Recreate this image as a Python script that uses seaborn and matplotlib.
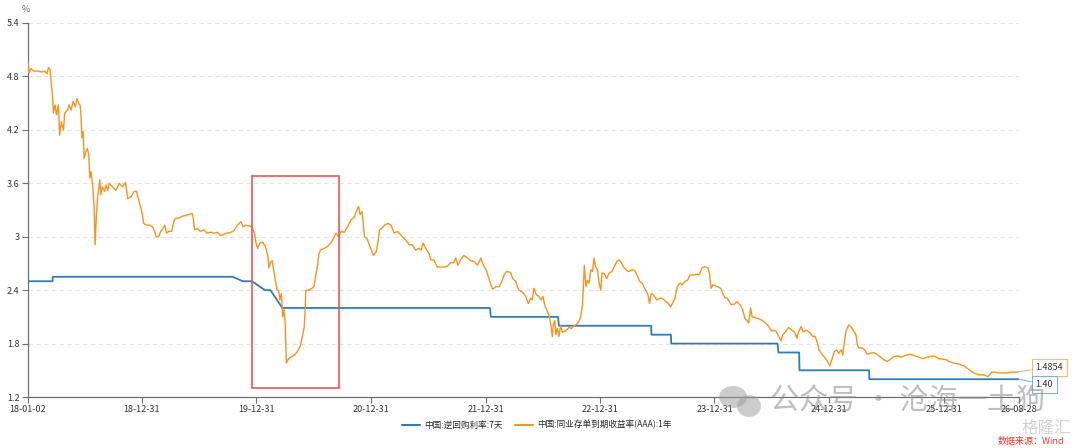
import matplotlib
matplotlib.use("Agg")
import matplotlib.pyplot as plt
import matplotlib.dates as mdates
from matplotlib.patches import Rectangle, Ellipse
from matplotlib.lines import Line2D
from matplotlib.ticker import FuncFormatter
import pandas as pd
import seaborn as sns


repo_label = "中国:逆回购利率:7天"
ncd_label = "中国:同业存单到期收益率(AAA):1年"

# 7-day reverse repo rate (%)
repo_dates = ["2018-01-02", "2018-03-21", "2018-03-22", "2019-10-17", "2019-11-18", "2019-12-17",
              "2020-01-28", "2020-02-14", "2020-03-23", "2022-01-14", "2022-01-17", "2022-08-19",
              "2022-08-22", "2023-06-12", "2023-06-13", "2023-08-14", "2023-08-15", "2024-07-19",
              "2024-07-22", "2024-09-26", "2024-09-27", "2025-05-07", "2025-05-08", "2026-08-28"]
repo_rate = [2.50, 2.50, 2.55, 2.55, 2.50, 2.50,
             2.40, 2.40, 2.20, 2.20, 2.10, 2.10,
             2.00, 2.00, 1.90, 1.90, 1.80, 1.80,
             1.70, 1.70, 1.50, 1.50, 1.40, 1.40]

# 1Y AAA NCD yield (%)
ncd_dates = [
    # 2018
    "2018-01-02", "2018-01-05", "2018-01-08", "2018-01-11", "2018-01-20", "2018-02-02",
    "2018-02-15", "2018-02-24", "2018-03-04", "2018-03-08", "2018-03-13", "2018-03-21",
    "2018-03-24", "2018-03-29", "2018-04-03", "2018-04-09", "2018-04-13", "2018-04-18",
    "2018-04-25", "2018-04-29", "2018-05-08", "2018-05-13", "2018-05-19", "2018-05-26",
    "2018-06-02", "2018-06-07", "2018-06-12", "2018-06-17", "2018-06-20", "2018-06-23",
    "2018-06-27", "2018-06-30", "2018-07-05", "2018-07-10", "2018-07-15", "2018-07-18",
    "2018-07-22", "2018-07-28", "2018-08-01", "2018-08-04", "2018-08-08", "2018-08-13",
    "2018-08-19", "2018-08-22", "2018-08-27", "2018-09-03", "2018-09-08", "2018-09-13",
    "2018-09-18", "2018-09-29", "2018-10-09", "2018-10-20", "2018-10-30", "2018-11-09",
    "2018-11-16", "2018-11-27", "2018-12-07", "2018-12-14", "2018-12-23", "2018-12-31",
    # 2019
    "2019-01-06", "2019-01-14", "2019-01-24", "2019-02-03", "2019-02-10", "2019-02-15",
    "2019-02-23", "2019-03-01", "2019-03-08", "2019-03-14", "2019-03-20", "2019-03-27",
    "2019-04-05", "2019-04-12", "2019-04-18", "2019-04-28", "2019-05-09", "2019-05-19",
    "2019-05-30", "2019-06-10", "2019-06-13", "2019-06-17", "2019-06-26", "2019-07-06",
    "2019-07-16", "2019-07-27", "2019-08-08", "2019-08-18", "2019-08-29", "2019-09-09",
    "2019-09-19", "2019-09-30", "2019-10-11", "2019-10-21", "2019-11-01", "2019-11-12",
    "2019-11-19", "2019-11-28", "2019-12-09", "2019-12-17", "2019-12-25", "2019-12-30",
    # 2020
    "2020-01-04", "2020-01-12", "2020-01-20", "2020-01-29", "2020-02-06", "2020-02-09",
    "2020-02-15", "2020-02-20", "2020-02-24", "2020-03-01", "2020-03-06", "2020-03-11",
    "2020-03-15", "2020-03-20", "2020-03-24", "2020-03-28", "2020-04-01", "2020-04-05",
    "2020-04-10", "2020-04-19", "2020-04-30", "2020-05-10", "2020-05-19", "2020-05-26",
    "2020-06-01", "2020-06-04", "2020-06-06", "2020-06-15", "2020-06-25", "2020-07-02",
    "2020-07-07", "2020-07-12", "2020-07-18", "2020-07-23", "2020-08-04", "2020-08-14",
    "2020-08-25", "2020-09-02", "2020-09-10", "2020-09-18", "2020-09-26", "2020-10-06",
    "2020-10-17", "2020-10-28", "2020-11-08", "2020-11-13", "2020-11-21", "2020-11-26",
    "2020-12-02", "2020-12-05", "2020-12-10", "2020-12-18", "2020-12-25",
    # 2021
    "2021-01-08", "2021-01-16", "2021-01-21", "2021-01-27", "2021-02-02", "2021-02-12",
    "2021-02-23", "2021-03-04", "2021-03-15", "2021-03-25", "2021-04-05", "2021-04-21",
    "2021-05-01", "2021-05-11", "2021-05-22", "2021-06-02", "2021-06-09", "2021-06-15",
    "2021-06-23", "2021-07-04", "2021-07-09", "2021-07-19", "2021-07-30", "2021-08-10",
    "2021-08-20", "2021-08-31", "2021-09-11", "2021-09-21", "2021-09-27", "2021-10-04",
    "2021-10-12", "2021-10-23", "2021-11-04", "2021-11-14", "2021-11-25", "2021-12-05",
    "2021-12-16", "2021-12-23",
    # 2022
    "2022-01-04", "2022-01-09", "2022-01-17", "2022-01-23", "2022-02-02", "2022-02-13",
    "2022-02-21", "2022-02-28", "2022-03-09", "2022-03-20", "2022-03-28", "2022-04-06",
    "2022-04-16", "2022-04-27", "2022-05-08", "2022-05-16", "2022-05-24", "2022-05-29",
    "2022-06-03", "2022-06-11", "2022-06-19", "2022-06-26", "2022-07-02", "2022-07-08",
    "2022-07-16", "2022-07-23", "2022-07-28", "2022-08-01", "2022-08-04", "2022-08-09",
    "2022-08-12", "2022-08-17", "2022-08-22", "2022-08-27", "2022-09-02", "2022-09-12",
    "2022-09-23", "2022-10-01", "2022-10-09", "2022-10-16", "2022-10-25", "2022-10-30",
    "2022-11-05", "2022-11-08", "2022-11-11", "2022-11-16", "2022-11-21", "2022-11-26",
    "2022-12-02", "2022-12-07", "2022-12-12", "2022-12-17", "2022-12-23", "2022-12-28",
    # 2023
    "2023-01-03", "2023-01-06", "2023-01-13", "2023-01-21", "2023-01-29", "2023-02-07",
    "2023-02-14", "2023-02-22", "2023-03-02", "2023-03-09", "2023-03-16", "2023-03-24",
    "2023-04-02", "2023-04-12", "2023-04-21", "2023-04-28", "2023-05-06", "2023-05-14",
    "2023-05-25", "2023-06-02", "2023-06-07", "2023-06-12", "2023-06-19", "2023-06-30",
    "2023-07-11", "2023-07-21", "2023-07-28", "2023-08-06", "2023-08-13", "2023-08-22",
    "2023-08-27", "2023-09-03", "2023-09-12", "2023-09-19", "2023-09-28", "2023-10-06",
    "2023-10-14", "2023-10-25", "2023-11-05", "2023-11-12", "2023-11-21", "2023-11-29",
    "2023-12-04", "2023-12-10", "2023-12-15", "2023-12-20", "2023-12-26",
    # 2024
    "2024-01-09", "2024-01-20", "2024-01-27", "2024-02-03", "2024-02-10", "2024-02-21",
    "2024-03-02", "2024-03-12", "2024-03-23", "2024-03-30", "2024-04-06", "2024-04-13",
    "2024-04-18", "2024-04-24", "2024-04-29", "2024-05-10", "2024-05-20", "2024-05-31",
    "2024-06-11", "2024-06-21", "2024-06-30", "2024-07-07", "2024-07-14", "2024-07-23",
    "2024-07-30", "2024-08-05", "2024-08-13", "2024-08-23", "2024-09-03", "2024-09-11",
    "2024-09-19", "2024-09-24", "2024-10-02", "2024-10-09", "2024-10-20", "2024-10-31",
    "2024-11-08", "2024-11-16", "2024-11-24", "2024-11-28", "2024-12-06", "2024-12-15",
    "2024-12-22",
    # 2025
    "2025-01-02", "2025-01-09", "2025-01-16", "2025-01-24", "2025-01-30", "2025-02-07",
    "2025-02-12", "2025-02-17", "2025-02-23", "2025-03-03", "2025-03-10", "2025-03-17",
    "2025-03-26", "2025-03-31", "2025-04-04", "2025-04-15", "2025-04-23", "2025-04-30",
    "2025-05-11", "2025-05-21", "2025-06-01", "2025-06-12", "2025-06-22", "2025-07-03",
    "2025-07-13", "2025-07-23", "2025-08-03", "2025-08-19", "2025-09-03", "2025-09-14",
    "2025-09-24", "2025-10-10", "2025-10-26", "2025-11-10", "2025-12-01", "2025-12-16",
    # 2026
    "2026-01-07", "2026-01-17", "2026-02-02", "2026-02-17", "2026-03-05", "2026-03-21",
    "2026-04-05", "2026-04-21", "2026-05-06", "2026-05-21", "2026-06-03", "2026-06-12",
    "2026-06-22", "2026-07-03", "2026-07-18", "2026-08-03", "2026-08-19", "2026-08-28",
]
ncd_yield = [
    # 2018
    4.96, 4.84, 4.86, 4.89, 4.86, 4.86,
    4.85, 4.86, 4.83, 4.90, 4.88, 4.59,
    4.39, 4.48, 4.37, 4.48, 4.14, 4.29,
    4.20, 4.39, 4.42, 4.48, 4.42, 4.52,
    4.46, 4.55, 4.50, 4.48, 4.37, 4.11,
    4.18, 3.88, 3.95, 3.99, 3.92, 3.66,
    3.73, 3.55, 3.32, 2.91, 3.24, 3.47,
    3.64, 3.47, 3.56, 3.51, 3.58, 3.52,
    3.60, 3.56, 3.52, 3.60, 3.56, 3.61,
    3.43, 3.45, 3.51, 3.51, 3.39, 3.28,
    # 2019
    3.15, 3.13, 3.13, 3.11, 3.06, 3.00,
    3.00, 3.06, 3.09, 3.13, 3.04, 3.06,
    3.06, 3.17, 3.21, 3.21, 3.23, 3.24,
    3.25, 3.26, 3.21, 3.08, 3.09, 3.06,
    3.08, 3.04, 3.05, 3.04, 3.05, 3.01,
    3.03, 3.04, 3.05, 3.07, 3.13, 3.17,
    3.11, 3.13, 3.12, 3.11, 3.04, 2.93,
    # 2020
    2.87, 2.93, 2.94, 2.89, 2.78, 2.65,
    2.72, 2.73, 2.63, 2.51, 2.40, 2.40,
    2.29, 2.36, 2.10, 2.18, 2.03, 1.58,
    1.62, 1.65, 1.67, 1.71, 1.77, 1.88,
    1.99, 2.21, 2.40, 2.40, 2.42, 2.44,
    2.55, 2.65, 2.81, 2.85, 2.87, 2.89,
    2.93, 2.98, 3.04, 3.00, 3.06, 3.05,
    3.11, 3.19, 3.22, 3.28, 3.34, 3.25,
    3.28, 3.19, 3.00, 2.98, 2.91,
    # 2021
    2.79, 2.83, 2.91, 3.08, 3.09, 3.13,
    3.15, 3.13, 3.04, 3.06, 3.02, 2.96,
    2.91, 2.91, 2.85, 2.87, 2.85, 2.93,
    2.87, 2.81, 2.74, 2.74, 2.66, 2.66,
    2.66, 2.67, 2.71, 2.71, 2.76, 2.68,
    2.74, 2.79, 2.76, 2.73, 2.72, 2.68,
    2.76, 2.69,
    # 2022
    2.61, 2.55, 2.46, 2.41, 2.44, 2.44,
    2.50, 2.57, 2.61, 2.60, 2.53, 2.50,
    2.40, 2.38, 2.33, 2.25, 2.31, 2.29,
    2.42, 2.35, 2.33, 2.29, 2.33, 2.23,
    2.16, 2.10, 1.99, 1.88, 2.01, 2.06,
    1.90, 1.97, 1.88, 2.00, 1.93, 1.94,
    1.98, 1.97, 2.00, 2.01, 2.05, 2.10,
    2.23, 2.44, 2.68, 2.44, 2.51, 2.48,
    2.63, 2.61, 2.76, 2.66, 2.63, 2.48,
    # 2023
    2.40, 2.59, 2.59, 2.53, 2.59, 2.61,
    2.66, 2.72, 2.74, 2.71, 2.66, 2.63,
    2.61, 2.63, 2.62, 2.57, 2.50, 2.48,
    2.40, 2.35, 2.25, 2.36, 2.35, 2.29,
    2.31, 2.30, 2.27, 2.25, 2.21, 2.27,
    2.31, 2.44, 2.48, 2.46, 2.50, 2.51,
    2.57, 2.57, 2.58, 2.57, 2.65, 2.66,
    2.66, 2.65, 2.59, 2.42, 2.46,
    # 2024
    2.44, 2.42, 2.36, 2.31, 2.31, 2.24,
    2.24, 2.27, 2.23, 2.18, 2.08, 2.06,
    2.03, 2.20, 2.10, 2.09, 2.08, 2.06,
    2.03, 1.99, 1.94, 1.95, 1.94, 1.88,
    1.83, 1.90, 1.93, 1.98, 1.95, 1.93,
    1.86, 1.93, 1.99, 1.93, 1.95, 1.92,
    1.88, 1.88, 1.80, 1.73, 1.69, 1.65,
    1.62,
    # 2025
    1.55, 1.63, 1.71, 1.73, 1.69, 1.73,
    1.67, 1.82, 1.95, 2.01, 1.99, 1.95,
    1.90, 1.78, 1.75, 1.75, 1.73, 1.68,
    1.69, 1.70, 1.68, 1.65, 1.62, 1.60,
    1.62, 1.65, 1.66, 1.65, 1.67, 1.68,
    1.67, 1.65, 1.63, 1.65, 1.66, 1.63,
    # 2026
    1.62, 1.60, 1.58, 1.57, 1.55, 1.51,
    1.47, 1.45, 1.45, 1.43, 1.48, 1.48,
    1.47, 1.47, 1.47, 1.48, 1.48, 1.4854,
]

y_ticks = [1.2, 1.8, 2.4, 3.0, 3.6, 4.2, 4.8, 5.4]
x_tick_dates = ["2018-01-02", "2018-12-31", "2019-12-31", "2020-12-31", "2021-12-31",
                "2022-12-31", "2023-12-31", "2024-12-31", "2025-12-31", "2026-08-28"]

# red highlight window around the 2020 dip
box_start, box_end = "2019-12-18", "2020-09-20"
box_low, box_high = 1.30, 3.68

BLUE = "#2f7db3"
ORANGE = "#f7931e"
RED = "#f05454"
AXIS = "#6e7079"


def main():
    assert len(ncd_dates) == len(ncd_yield)
    assert len(repo_dates) == len(repo_rate)

    sns.set_theme(style="white")
    plt.rcParams["font.family"] = ["Noto Sans CJK SC", "DejaVu Sans"]

    repo = pd.DataFrame({"date": pd.to_datetime(repo_dates), "rate": repo_rate})
    ncd = pd.DataFrame({"date": pd.to_datetime(ncd_dates), "yield": ncd_yield})

    fig = plt.figure(figsize=(10.8, 4.48), dpi=100)
    ax = fig.add_axes([28 / 1080, 51 / 448, 991 / 1080, 374 / 448])

    sns.lineplot(data=repo, x="date", y="rate", color=BLUE, lw=1.3, ax=ax, zorder=3)
    sns.lineplot(data=ncd, x="date", y="yield", color=ORANGE, lw=1.0, ax=ax, zorder=4)

    ax.set_xlim(pd.Timestamp(x_tick_dates[0]), pd.Timestamp(x_tick_dates[-1]))
    ax.set_ylim(y_ticks[0], y_ticks[-1])
    ax.set_xlabel("")
    ax.set_ylabel("")

    ax.set_yticks(y_ticks)
    ax.yaxis.set_major_formatter(FuncFormatter(lambda v, _: f"{v:g}"))
    ax.set_xticks(pd.to_datetime(x_tick_dates))
    ax.xaxis.set_major_formatter(mdates.DateFormatter("%y-%m-%d"))

    ax.yaxis.grid(True, linestyle=(0, (4, 3)), color="#e2e2e2", lw=0.8)
    ax.xaxis.grid(False)
    for side in ["top", "right"]:
        ax.spines[side].set_visible(False)
    for side in ["left", "bottom"]:
        ax.spines[side].set_color(AXIS)
        ax.spines[side].set_linewidth(0.9)
    ax.tick_params(axis="both", bottom=True, left=True, length=4, width=0.8,
                   color=AXIS, labelcolor="#333333", labelsize=6.5, pad=2)

    # highlight box
    x0 = mdates.date2num(pd.Timestamp(box_start))
    x1 = mdates.date2num(pd.Timestamp(box_end))
    ax.add_patch(Rectangle((x0, box_low), x1 - x0, box_high - box_low,
                           fill=False, edgecolor=RED, lw=1.2, zorder=5))

    # end value callouts
    end = pd.Timestamp(ncd_dates[-1])
    ax.annotate(f"{ncd_yield[-1]:.4f}", xy=(end, ncd_yield[-1]), xytext=(12, 3),
                textcoords="offset points", ha="left", va="center", fontsize=6.5,
                color="#333333", annotation_clip=False,
                bbox=dict(boxstyle="square,pad=0.45", fc="white", ec="#f9b877", lw=0.8),
                arrowprops=dict(arrowstyle="-", color="#f9b877", lw=0.8,
                                shrinkA=0, shrinkB=0))
    ax.annotate(f"{repo_rate[-1]:.2f}", xy=(pd.Timestamp(repo_dates[-1]), repo_rate[-1]),
                xytext=(12, -4), textcoords="offset points", ha="left", va="center",
                fontsize=6.5, color="#333333", annotation_clip=False,
                bbox=dict(boxstyle="square,pad=0.45", fc="white", ec="#7fb2d3", lw=0.8),
                arrowprops=dict(arrowstyle="-", color="#7fb2d3", lw=0.8,
                                shrinkA=0, shrinkB=0))

    fig.text(26 / 1080, 1 - 10 / 448, "%", ha="center", va="center",
             fontsize=6.5, color="#666666")

    handles = [Line2D([], [], color=BLUE, lw=1.5), Line2D([], [], color=ORANGE, lw=1.5)]
    fig.legend(handles, [repo_label, ncd_label], loc="center",
               bbox_to_anchor=(537 / 1080, 1 - 425 / 448), ncol=2, frameon=False,
               fontsize=6.2, handlelength=2.1, handletextpad=0.5, columnspacing=1.4)

    # watermarks and source note
    fig.add_artist(Ellipse((733 / 1080, 1 - 397 / 448), 28 / 1080, 22 / 448,
                           transform=fig.transFigure, fc="#9a9a9a", alpha=0.5, lw=0))
    fig.add_artist(Ellipse((749 / 1080, 1 - 406 / 448), 24 / 1080, 22 / 448,
                           transform=fig.transFigure, fc="#9a9a9a", alpha=0.5, lw=0))
    fig.text(770 / 1080, 1 - 402 / 448, "公众号 · 沧海一土狗", ha="left", va="center",
             fontsize=21, color="#8a8a8a", alpha=0.55)
    fig.text(1046 / 1080, 1 - 428 / 448, "格隆汇", ha="center", va="center",
             fontsize=12, color="#b5b5b5", alpha=0.6)
    fig.text(1031 / 1080, 1 - 441 / 448, "数据来源：Wind", ha="center", va="center",
             fontsize=6.5, color="#e8382f")

    fig.savefig("out.png", dpi=100)
    plt.close(fig)


if __name__ == "__main__":
    main()
